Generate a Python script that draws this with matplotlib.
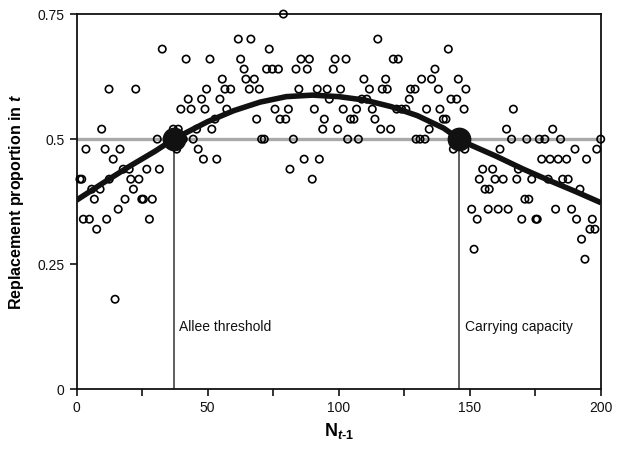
import matplotlib
matplotlib.use("Agg")
import matplotlib.pyplot as plt
import numpy as np

plt.rcParams['font.family'] = ['Liberation Sans', 'DejaVu Sans']
plt.rcParams['mathtext.fontset'] = 'custom'
plt.rcParams['mathtext.rm'] = 'Liberation Sans:bold'
plt.rcParams['mathtext.bf'] = 'Liberation Sans:bold'
plt.rcParams['mathtext.it'] = 'Liberation Sans:italic:bold'

# Observed replacement proportions (N_{t-1}, proportion)
obs_x = [1.3, 2.0, 2.6, 3.6, 4.9, 5.8, 6.8, 7.7, 9.0, 9.6, 10.9, 11.5, 12.4, 12.5, 14.0, 14.7, 15.9, 16.6,
         17.8, 18.5, 20.1, 20.7, 21.7, 22.6, 23.8, 24.9, 25.5, 26.8, 27.8, 28.9, 30.8, 31.6, 32.7, 36.9,
         38.2, 38.8, 39.8, 40.7, 41.8, 42.6, 43.7, 44.5, 45.8, 46.4, 47.7, 48.4, 49.0, 49.6, 50.9, 51.6,
         52.8, 53.5, 54.7, 55.6, 56.6, 57.3, 58.8,
         61.7, 62.6, 63.9, 64.6, 65.9, 66.5, 67.8, 68.7, 69.7, 70.6, 71.6, 72.5, 73.5, 74.7, 75.7, 77.0,
         77.6, 78.9, 79.8, 80.8, 81.4, 82.7, 83.7, 84.8, 85.6, 86.8, 88.0, 88.8, 89.9, 90.7, 91.8, 92.6,
         93.9, 94.5, 95.6, 96.4, 97.9, 98.6, 99.6, 100.7, 101.7, 102.8, 103.4, 104.5,
         105.8, 106.8, 107.5, 108.8, 109.6, 110.7, 111.7, 112.8, 113.8, 114.9, 116.0, 116.6, 117.9, 118.5,
         119.8, 120.8, 122.1, 122.7, 124.0, 125.6, 126.9, 127.4, 129.1, 129.5, 131.0, 131.6, 132.9, 133.5,
         134.5, 135.4, 136.7, 138.0, 138.6, 139.9, 140.9, 141.8, 142.8, 143.7, 145.0, 145.6, 147.8, 148.1,
         148.5,
         150.7, 151.6, 152.8, 153.6, 154.9, 155.8, 157.0, 157.4, 158.7, 159.6, 160.8, 161.5, 162.7, 164.0,
         164.6, 165.9, 166.6, 167.9, 168.5, 169.8, 171.0, 171.7, 172.5, 173.6, 175.2, 175.7, 176.5, 177.4,
         178.6, 179.9, 180.6, 181.6, 182.7, 183.7, 184.6, 185.4, 186.9, 187.5, 188.8, 190.1, 190.7, 192.0,
         192.6, 193.9, 194.5, 195.8, 196.7, 197.7, 198.4, 199.9]
obs_y = [0.42, 0.42, 0.34, 0.48, 0.34, 0.40, 0.38, 0.32, 0.40, 0.52, 0.48, 0.34, 0.60, 0.42, 0.46, 0.18, 0.36, 0.48,
         0.44, 0.38, 0.44, 0.42, 0.40, 0.60, 0.42, 0.38, 0.38, 0.44, 0.34, 0.38, 0.50, 0.44, 0.68, 0.52,
         0.48, 0.52, 0.56, 0.50, 0.66, 0.58, 0.56, 0.50, 0.52, 0.48, 0.58, 0.46, 0.56, 0.60, 0.66, 0.52,
         0.54, 0.46, 0.58, 0.62, 0.60, 0.56, 0.60,
         0.70, 0.66, 0.64, 0.62, 0.60, 0.70, 0.62, 0.54, 0.60, 0.50, 0.50, 0.64, 0.68, 0.64, 0.56, 0.64,
         0.54, 0.75, 0.54, 0.56, 0.44, 0.50, 0.64, 0.60, 0.66, 0.46, 0.64, 0.66, 0.42, 0.56, 0.60, 0.46,
         0.52, 0.54, 0.60, 0.58, 0.64, 0.66, 0.52, 0.60, 0.56, 0.66, 0.50, 0.54,
         0.54, 0.56, 0.50, 0.58, 0.62, 0.58, 0.60, 0.56, 0.54, 0.70, 0.52, 0.60, 0.62, 0.60,
         0.52, 0.66, 0.56, 0.66, 0.56, 0.56, 0.58, 0.60, 0.60, 0.50, 0.50, 0.62, 0.50, 0.56,
         0.52, 0.62, 0.64, 0.60, 0.56, 0.54, 0.54, 0.68, 0.58, 0.48, 0.58, 0.62, 0.56, 0.48,
         0.60,
         0.36, 0.28, 0.34, 0.42, 0.44, 0.40, 0.36, 0.40, 0.44, 0.42, 0.36, 0.48, 0.42, 0.52,
         0.36, 0.50, 0.56, 0.42, 0.44, 0.34, 0.38, 0.50, 0.38, 0.42, 0.34, 0.34, 0.50, 0.46,
         0.50, 0.42, 0.46, 0.52, 0.36, 0.46, 0.50, 0.42, 0.46, 0.42, 0.36, 0.48, 0.34, 0.40,
         0.30, 0.26, 0.46, 0.32, 0.34, 0.32, 0.48, 0.50]

# Fitted replacement curve
fit_x = [0, 10, 20, 30, 37, 40, 50, 60, 70, 80, 90, 100, 110, 120, 130, 140, 146, 150, 160, 170, 180, 190, 200]
fit_y = [0.378, 0.412, 0.445, 0.476, 0.500, 0.508, 0.535, 0.557, 0.574, 0.585, 0.588, 0.585, 0.578,
         0.565, 0.547, 0.522, 0.500, 0.489, 0.466, 0.441, 0.418, 0.396, 0.373]

replacement_level = 0.5
allee_threshold = 37
carrying_capacity = 146
equilibrium_labels = ["Allee threshold", "Carrying capacity"]

fig = plt.figure(figsize=(6.17, 4.54), dpi=100)
ax = fig.add_axes([0.124, 0.1425, 0.850, 0.8265])

ax.axhline(replacement_level, color='#a9a9a9', lw=2.4, zorder=1)
for xv in (allee_threshold, carrying_capacity):
    ax.plot([xv, xv], [0, replacement_level], color='#333333', lw=1.1, zorder=2)

ax.scatter(obs_x, obs_y, s=28, facecolors='none', edgecolors='black', linewidths=1.2,
           zorder=3, clip_on=False)

ax.plot(fit_x, fit_y, color='#111111', lw=4, solid_capstyle='butt', zorder=4)
ax.scatter([allee_threshold, carrying_capacity], [replacement_level] * 2, s=260,
           color='#111111', zorder=5)

for xv, lab in zip((allee_threshold, carrying_capacity), equilibrium_labels):
    ax.text(xv + 2.2, 0.124, lab, fontsize=10, va='center', ha='left', color='#111111')

ax.set_xlim(0, 200)
ax.set_ylim(0, 0.75)
ax.set_xticks([0, 50, 100, 150, 200])
ax.set_xticks([25, 75, 125, 175], minor=True)
ax.set_yticks([0, 0.25, 0.5, 0.75])
ax.set_yticklabels(['0', '0.25', '0.5', '0.75'])
ax.tick_params(axis='both', which='both', direction='out', length=5, width=1.2, labelsize=10,
               colors='#111111')
for sp in ax.spines.values():
    sp.set_linewidth(1.3)
    sp.set_color('#111111')

ax.set_ylabel(r"Replacement proportion in $\mathit{t}$", fontsize=11.5, fontweight='bold', labelpad=8)
ax.set_xlabel("$\\mathrm{N}_{\\mathit{t\u20101}}$", fontsize=13, labelpad=4)

fig.savefig("out.png", dpi=100)
